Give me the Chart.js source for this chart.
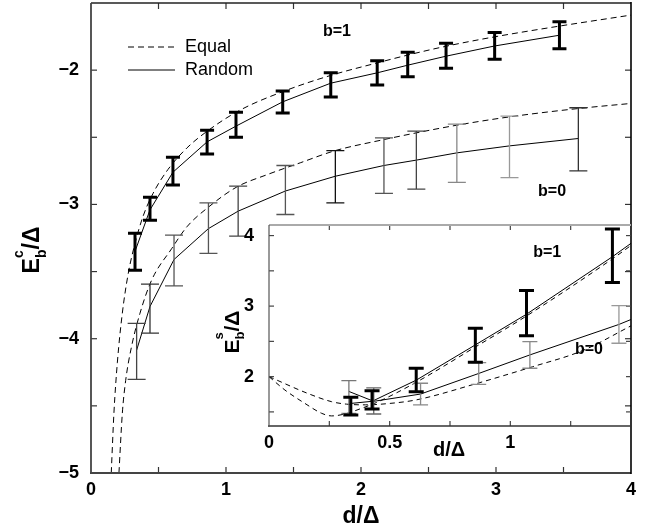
<!DOCTYPE html>
<html>
<head>
<meta charset="utf-8">
<script src="https://cdn.jsdelivr.net/npm/chart.js@4.4.1/dist/chart.umd.min.js"></script>
<style>
  html, body { margin: 0; padding: 0; background: #fff; }
  #wrap { position: relative; width: 655px; height: 532px; }
  #wrap canvas { position: absolute; left: 0; top: 0; }
</style>
</head>
<body>
<div id="wrap">
  <canvas id="mainChart" width="655" height="532"></canvas>
  <canvas id="insetChart" width="655" height="532"></canvas>
</div>
<script>
const FONT = "'Liberation Sans', Arial, Helvetica, sans-serif";

// ---- main panel: E_b^c / Delta against d / Delta ----
// b=1 error bars (thick) and the Random line through them
const b1X      = [0.326, 0.437, 0.607, 0.86, 1.074, 1.42, 1.776, 2.12, 2.346, 2.63, 2.99, 3.47];
const b1Lo     = [-3.49, -3.117, -2.856, -2.625, -2.5, -2.32, -2.2, -2.11, -2.05, -1.985, -1.918, -1.84];
const b1Hi     = [-3.214, -2.946, -2.648, -2.447, -2.313, -2.156, -2.02, -1.93, -1.866, -1.8, -1.72, -1.64];
const b1Random = [-3.35, -3.04, -2.76, -2.534, -2.417, -2.236, -2.097, -2.02, -1.963, -1.896, -1.82, -1.74];

// b=0 error bars (thin) and the Random line
const b0X      = [0.338, 0.437, 0.615, 0.87, 1.09, 1.44, 1.81, 2.17, 2.41, 2.71, 3.10, 3.61];
const b0Lo     = [-4.303, -3.958, -3.606, -3.365, -3.236, -3.075, -2.988, -2.918, -2.886, -2.836, -2.8, -2.75];
const b0Hi     = [-3.886, -3.594, -3.229, -2.988, -2.864, -2.71, -2.6, -2.504, -2.454, -2.402, -2.343, -2.28];
const b0Random = [-4.085, -3.76, -3.41, -3.18, -3.05, -2.9, -2.79, -2.71, -2.67, -2.616, -2.564, -2.509];

// Equal (dashed) curves
const eqB1X = [0.150, 0.17, 0.195, 0.232, 0.276, 0.326, 0.385, 0.46, 0.57, 0.71, 0.86, 1.10, 1.45, 1.79, 2.12, 2.345, 2.635, 2.99, 3.47, 4.0];
const eqB1  = [-5.0, -4.55, -4.18, -3.81, -3.514, -3.29, -3.09, -2.917, -2.74, -2.58, -2.455, -2.3, -2.149, -2.035, -1.946, -1.888, -1.821, -1.752, -1.672, -1.59];
const eqB0X = [0.207, 0.232, 0.257, 0.30, 0.363, 0.449, 0.597, 0.71, 0.87, 1.08, 1.3, 1.55, 1.807, 2.165, 2.41, 2.71, 3.10, 3.617, 4.0];
const eqB0  = [-5.0, -4.556, -4.31, -4.06, -3.81, -3.564, -3.33, -3.167, -3.02, -2.87, -2.78, -2.69, -2.60, -2.518, -2.467, -2.41, -2.348, -2.285, -2.248];

// ---- inset: E_b^s / Delta against d / Delta ----
const insB1X  = [0.339, 0.427, 0.61, 0.855, 1.067, 1.423];
const insB1Lo = [1.457, 1.54, 1.787, 2.204, 2.58, 3.333];
const insB1Hi = [1.708, 1.80, 2.119, 2.687, 3.22, 4.095];
const insB0X  = [0.331, 0.434, 0.628, 0.869, 1.081, 1.45];
const insB0Lo = [1.48, 1.47, 1.6, 1.89, 2.119, 2.473];
const insB0Hi = [1.943, 1.84, 1.906, 2.2, 2.497, 3.007];

const insB1RandomX = [0.339, 0.427, 0.61, 0.855, 1.067, 1.423, 1.5];
const insB1Random  = [1.62, 1.65, 1.95, 2.45, 2.885, 3.70, 3.89];
const insB0RandomX = [0.331, 0.434, 0.628, 0.869, 1.081, 1.45, 1.5];
const insB0Random  = [1.79, 1.65, 1.753, 2.045, 2.308, 2.74, 2.81];

const insEqB1X = [0, 0.066, 0.149, 0.218, 0.259, 0.314, 0.383, 0.45, 0.61, 0.855, 1.067, 1.423, 1.5];
const insEqB1  = [2.0, 1.81, 1.62, 1.48, 1.443, 1.47, 1.55, 1.64, 1.92, 2.42, 2.86, 3.67, 3.86];
const insEqB0X = [0, 0.162, 0.259, 0.321, 0.40, 0.5, 0.61, 0.858, 1.092, 1.30, 1.5];
const insEqB0  = [2.0, 1.76, 1.645, 1.61, 1.60, 1.62, 1.67, 1.90, 2.14, 2.37, 2.72];

// tick marks (inward), labels come from the scales
const mainXTicks = [0.5, 1, 1.5, 2, 2.5, 3, 3.5];
const mainYTicks = [-4.5, -4, -3.5, -3, -2.5, -2];
const insXTicks  = [0.25, 0.5, 0.75, 1, 1.25];
const insYTicks  = [1.5, 2, 2.5, 3, 3.5, 4];

// grey levels of the thin b=0 bars
const b0Colors    = ['#444', '#333', '#555', '#555', '#444', '#555', '#111', '#555', '#444', '#888', '#999', '#333'];
const insB0Colors = ['#777', '#666', '#888', '#888', '#888', '#999'];

function line(xs, ys, dashed, dash) {
  return {
    data: xs.map((x, i) => ({ x: x, y: ys[i] })),
    borderColor: '#000',
    borderWidth: 1,
    borderDash: dashed ? dash : [],
    pointRadius: 0,
    fill: false,
    tension: 0,
    cubicInterpolationMode: dashed ? 'monotone' : 'default'
  };
}

function minus(v) {
  return v < 0 ? '\u2212' + Math.abs(v) : String(v);
}

// fixed axis size, and no extra room asked for edge labels
function fixSize(w, h) {
  return function (s) {
    if (w !== null) s.width = w;
    if (h !== null) s.height = h;
    s.paddingTop = 0;
    s.paddingBottom = 0;
    s.paddingLeft = 0;
    s.paddingRight = 0;
  };
}

function seg(ctx, x1, y1, x2, y2) {
  ctx.beginPath();
  ctx.moveTo(x1, y1);
  ctx.lineTo(x2, y2);
  ctx.stroke();
}

// error bars, frame, inward ticks, b= labels
function makeDecor(cfg) {
  return {
    id: cfg.id,
    afterDatasetsDraw(chart) {
      const ctx = chart.ctx;
      const a = chart.chartArea;
      const sx = chart.scales.x, sy = chart.scales.y;
      ctx.save();
      ctx.lineCap = 'butt';
      cfg.bars.forEach(set => {
        ctx.lineWidth = set.width;
        set.x.forEach((x, i) => {
          const px = sx.getPixelForValue(x);
          const pLo = sy.getPixelForValue(set.lo[i]);
          const pHi = sy.getPixelForValue(set.hi[i]);
          const h = set.cap / 2;
          ctx.strokeStyle = set.colors[i];
          ctx.beginPath();
          ctx.moveTo(px, pLo); ctx.lineTo(px, pHi);
          ctx.moveTo(px - h, pLo); ctx.lineTo(px + h, pLo);
          ctx.moveTo(px - h, pHi); ctx.lineTo(px + h, pHi);
          ctx.stroke();
        });
      });

      ctx.strokeStyle = cfg.tickColor;
      ctx.lineWidth = 1.2;
      const L = cfg.tickLen;
      cfg.xTicks.forEach(v => {
        const p = sx.getPixelForValue(v);
        seg(ctx, p, a.bottom, p, a.bottom - L);
        seg(ctx, p, a.top, p, a.top + L);
      });
      cfg.yTicks.forEach(v => {
        const p = sy.getPixelForValue(v);
        seg(ctx, a.left, p, a.left + L, p);
        seg(ctx, a.right, p, a.right - L, p);
      });

      const s = cfg.sides;
      if (s.top) { ctx.strokeStyle = s.top[0]; ctx.lineWidth = s.top[1]; seg(ctx, a.left, a.top, a.right, a.top); }
      if (s.bottom) { ctx.strokeStyle = s.bottom[0]; ctx.lineWidth = s.bottom[1]; seg(ctx, a.left - 1, a.bottom, a.right, a.bottom); }
      if (s.left) { ctx.strokeStyle = s.left[0]; ctx.lineWidth = s.left[1]; seg(ctx, a.left, a.top, a.left, a.bottom + 1); }
      if (s.right) { ctx.strokeStyle = s.right[0]; ctx.lineWidth = s.right[1]; seg(ctx, a.right, a.top - 1, a.right, a.bottom + 1); }

      ctx.fillStyle = '#000';
      ctx.textAlign = 'center';
      ctx.textBaseline = 'middle';
      cfg.labels.forEach(l => {
        ctx.font = l.font;
        ctx.fillText(l.text, sx.getPixelForValue(l.x), sy.getPixelForValue(l.y));
      });
      ctx.restore();
    }
  };
}

// E with sub b / superscript, then /Δ, rotated
function drawEnergyTitle(ctx, cx, cy, sup, size) {
  ctx.save();
  ctx.translate(cx, cy);
  ctx.rotate(-Math.PI / 2);
  const big = 'bold ' + size + 'px ' + FONT;
  const small = 'bold ' + Math.round(size * 0.6) + 'px ' + FONT;
  ctx.font = big;
  const wE = ctx.measureText('E').width;
  const wT = ctx.measureText('/\u0394').width;
  ctx.font = small;
  const wS = Math.max(ctx.measureText('b').width, ctx.measureText(sup).width);
  const x = -(wE + wS + wT) / 2;
  const base = size * 0.36;
  ctx.fillStyle = '#000';
  ctx.textAlign = 'left';
  ctx.textBaseline = 'alphabetic';
  ctx.font = big;
  ctx.fillText('E', x, base);
  ctx.font = small;
  ctx.fillText(sup, x + wE, base - size * 0.72);
  ctx.fillText('b', x + wE, base + size * 0.28);
  ctx.font = big;
  ctx.fillText('/\u0394', x + wE + wS, base);
  ctx.restore();
}

const tickFont = { family: FONT, size: 18, weight: 'bold' };

const mainDecor = makeDecor({
  id: 'mainDecor',
  bars: [
    { x: b0X, lo: b0Lo, hi: b0Hi, width: 1.3, cap: 18, colors: b0Colors },
    { x: b1X, lo: b1Lo, hi: b1Hi, width: 3, cap: 14, colors: b1X.map(() => '#000') }
  ],
  xTicks: mainXTicks,
  yTicks: mainYTicks,
  tickLen: 6,
  tickColor: '#333',
  sides: { top: ['#222', 1.5], bottom: ['#444', 1.8], left: ['#444', 1.8], right: ['#000', 1.6] },
  labels: [
    { text: 'b=1', x: 1.822, y: -1.71, font: 'bold 16px ' + FONT },
    { text: 'b=0', x: 3.415, y: -2.908, font: 'bold 16px ' + FONT }
  ]
});

const mainText = {
  id: 'mainText',
  afterDraw(chart) {
    const ctx = chart.ctx;
    const a = chart.chartArea;
    ctx.save();
    ctx.strokeStyle = '#000';
    ctx.lineWidth = 1;
    ctx.setLineDash([6, 4]);
    seg(ctx, a.left + 37, a.top + 44, a.left + 84, a.top + 44);
    ctx.setLineDash([]);
    seg(ctx, a.left + 37, a.top + 67, a.left + 84, a.top + 67);
    ctx.fillStyle = '#000';
    ctx.font = '18px ' + FONT;
    ctx.textAlign = 'left';
    ctx.textBaseline = 'middle';
    ctx.fillText('Equal', a.left + 94, a.top + 44);
    ctx.fillText('Random', a.left + 94, a.top + 67);

    ctx.font = 'bold 23px ' + FONT;
    ctx.textAlign = 'center';
    ctx.textBaseline = 'alphabetic';
    ctx.fillText('d/\u0394', (a.left + a.right) / 2, 523);
    ctx.restore();
    drawEnergyTitle(ctx, 31, 250, 'c', 23);
  }
};

new Chart(document.getElementById('mainChart'), {
  type: 'line',
  data: {
    datasets: [
      line(eqB1X, eqB1, true, [6, 4]),
      line(b1X, b1Random, false),
      line(eqB0X, eqB0, true, [6, 4]),
      line(b0X, b0Random, false)
    ]
  },
  options: {
    responsive: false,
    animation: false,
    layout: { padding: { left: 0, top: 3, right: 24, bottom: 0 } },
    plugins: { legend: { display: false }, tooltip: { enabled: false } },
    scales: {
      x: {
        type: 'linear', min: 0, max: 4,
        ticks: { stepSize: 1, padding: 6, font: tickFont, color: '#000' },
        grid: { display: false, drawTicks: false },
        border: { display: false },
        afterFit: fixSize(null, 59)
      },
      y: {
        type: 'linear', min: -5, max: -1.5,
        ticks: { stepSize: 1, includeBounds: false, padding: 12, font: tickFont, color: '#000', callback: v => minus(v) },
        grid: { display: false, drawTicks: false },
        border: { display: false },
        afterFit: fixSize(91, null)
      }
    }
  },
  plugins: [mainDecor, mainText]
});

const insetDecor = makeDecor({
  id: 'insetDecor',
  bars: [
    { x: insB0X, lo: insB0Lo, hi: insB0Hi, width: 1.3, cap: 15, colors: insB0Colors },
    { x: insB1X, lo: insB1Lo, hi: insB1Hi, width: 3, cap: 15, colors: insB1X.map(() => '#000') }
  ],
  xTicks: insXTicks,
  yTicks: insYTicks,
  tickLen: 5,
  tickColor: '#444',
  sides: { top: ['#aaa', 2], bottom: ['#333', 1.5], left: ['#555', 1.2], right: null },
  labels: [
    { text: 'b=1', x: 1.153, y: 3.755, font: 'bold 16px ' + FONT },
    { text: 'b=0', x: 1.326, y: 2.379, font: 'bold 16px ' + FONT }
  ]
});

const insetText = {
  id: 'insetText',
  afterDraw(chart) {
    const ctx = chart.ctx;
    ctx.save();
    ctx.fillStyle = '#000';
    ctx.font = 'bold 20px ' + FONT;
    ctx.textAlign = 'center';
    ctx.textBaseline = 'alphabetic';
    ctx.fillText('d/\u0394', 449, 456);
    ctx.restore();
    drawEnergyTitle(ctx, 231, 332, 's', 21);
  }
};

new Chart(document.getElementById('insetChart'), {
  type: 'line',
  data: {
    datasets: [
      line(insEqB1X, insEqB1, true, [5, 4]),
      line(insB1RandomX, insB1Random, false),
      line(insEqB0X, insEqB0, true, [5, 4]),
      line(insB0RandomX, insB0Random, false)
    ]
  },
  options: {
    responsive: false,
    animation: false,
    layout: { padding: { left: 209, top: 225, right: 24, bottom: 61 } },
    plugins: { legend: { display: false }, tooltip: { enabled: false } },
    scales: {
      x: {
        type: 'linear', min: 0, max: 1.5,
        ticks: { stepSize: 0.5, padding: 6, font: tickFont, color: '#000', callback: v => String(v) },
        afterBuildTicks(s) { s.ticks = s.ticks.filter(t => t.value <= 1); },
        grid: { display: false, drawTicks: false },
        border: { display: false },
        afterFit: fixSize(null, 45)
      },
      y: {
        type: 'linear', min: 1.3, max: 4.15,
        ticks: { stepSize: 1, includeBounds: false, padding: 15, font: tickFont, color: '#000', callback: v => String(v) },
        grid: { display: false, drawTicks: false },
        border: { display: false },
        afterFit: fixSize(60, null)
      }
    }
  },
  plugins: [insetDecor, insetText]
});
</script>
</body>
</html>
